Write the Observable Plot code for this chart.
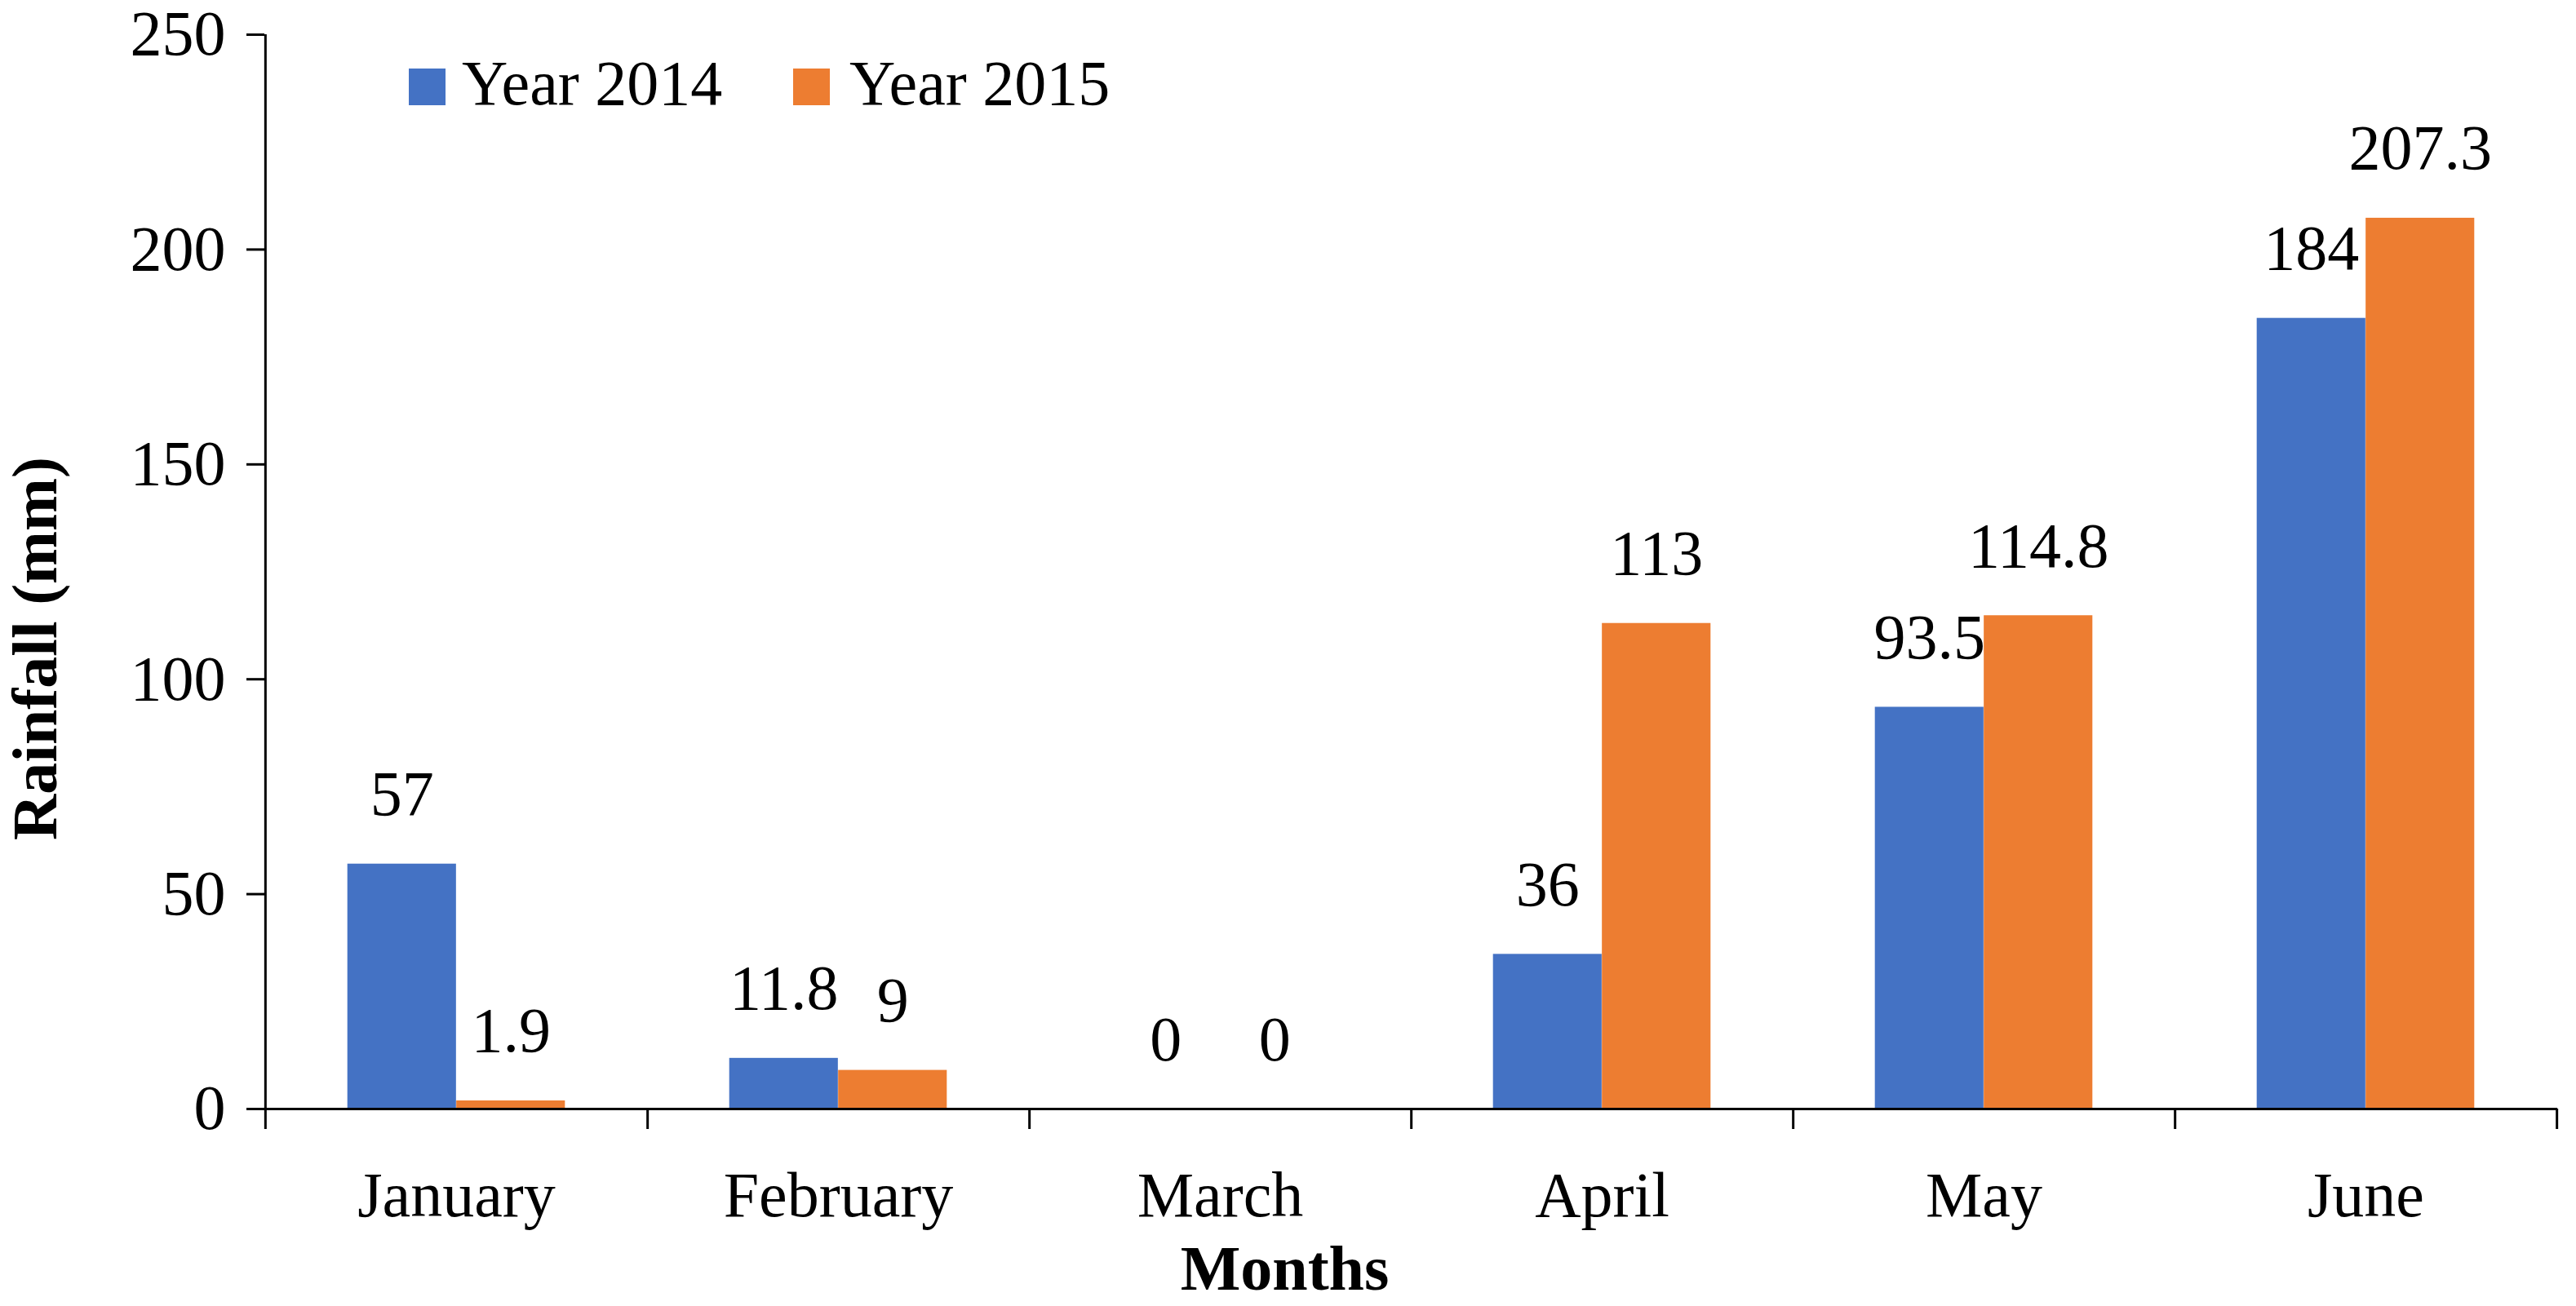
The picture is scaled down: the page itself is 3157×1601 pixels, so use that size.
<!DOCTYPE html>
<html>
<head>
<meta charset="utf-8">
<script src="https://cdn.jsdelivr.net/npm/d3@7"></script>
<script src="https://cdn.jsdelivr.net/npm/@observablehq/plot@0.6"></script>
<style>
  html, body { margin: 0; padding: 0; background: #ffffff; }
  #wrap { position: relative; width: 3157px; height: 1601px; font-family: "Liberation Serif", "Times New Roman", serif; }
  .sw { position: absolute; width: 45px; height: 45px; }
  .lt { position: absolute; font-size: 78px; line-height: 78px; color: #000; white-space: nowrap; }
</style>
</head>
<body>
<div id="wrap"></div>
<script>
const months = ["January", "February", "March", "April", "May", "June"];
const rain2014 = [57, 11.8, 0, 36, 93.5, 184];
const rain2015 = [1.9, 9, 0, 113, 114.8, 207.3];
const yTicks = [0, 50, 100, 150, 200, 250];
const seriesNames = ["Year 2014", "Year 2015"];
const seriesColors = ["#4472C4", "#ED7D31"];

const W = 3157, H = 1601;
const mL = 324, mR = 23, mT = 42, mB = 242;
const bw = (W - mL - mR) / months.length;
const font = "'Liberation Serif', 'Times New Roman', serif";
const fs = 78;

const d14 = months.map((m, i) => ({month: m, value: rain2014[i]}));
const d15 = months.map((m, i) => ({month: m, value: rain2015[i]}));

const chart = Plot.plot({
  width: W,
  height: H,
  marginLeft: mL,
  marginRight: mR,
  marginTop: mT,
  marginBottom: mB,
  style: {fontFamily: font, fontSize: fs + "px", color: "#000", background: "#fff", overflow: "visible"},
  x: {type: "band", domain: months, padding: 0},
  y: {domain: [0, 250]},
  marks: [
    Plot.barY(d14, {x: "month", y: "value", fill: seriesColors[0], insetLeft: bw * 0.215, insetRight: bw * 0.5}),
    Plot.barY(d15, {x: "month", y: "value", fill: seriesColors[1], insetLeft: bw * 0.5, insetRight: bw * 0.215}),
    Plot.text(d14, {x: "month", y: "value", text: d => String(d.value), dx: -bw * 0.1425, dy: -60, lineAnchor: "bottom", fontSize: fs, fill: "#000"}),
    Plot.text(d15, {x: "month", y: "value", text: d => String(d.value), dx: bw * 0.1425, dy: -60, lineAnchor: "bottom", fontSize: fs, fill: "#000"}),
    // category boundary ticks below the axis
    Plot.ruleX(months, {x: d => d, y1: 0, y2: 0, dx: bw / 2, insetBottom: -25, stroke: "#000", strokeWidth: 3}),
    // y axis line (left edge of first category), extended below the x axis
    Plot.ruleX([months[0]], {x: d => d, y1: 250, y2: 0, dx: -bw / 2, insetBottom: -25, stroke: "#000", strokeWidth: 3}),
    // x axis line
    Plot.ruleY([0], {insetLeft: -22, stroke: "#000", strokeWidth: 3}),
    Plot.axisY({ticks: yTicks, tickSize: 22, tickPadding: 26, fontSize: fs, label: null, strokeWidth: 3, tickFormat: d => String(d)}),
    Plot.axisX({tickSize: 0, tickPadding: 76, fontSize: fs, label: null}),
    Plot.text(["Months"], {frameAnchor: "bottom", dx: -155, dy: 221, textAnchor: "middle", lineAnchor: "bottom", fontSize: fs, fontWeight: "bold", fill: "#000"}),
    Plot.text(["Rainfall (mm)"], {frameAnchor: "left", dx: -280, dy: 94, rotate: -90, textAnchor: "middle", lineAnchor: "middle", fontSize: fs, fontWeight: "bold", fill: "#000"})
  ]
});

const wrap = document.getElementById("wrap");
wrap.appendChild(chart);

// legend overlay inside the plot area
const legendPos = [{sx: 501, tx: 566}, {sx: 972, tx: 1041}];
seriesNames.forEach((name, i) => {
  const sw = document.createElement("div");
  sw.className = "sw";
  sw.style.left = legendPos[i].sx + "px";
  sw.style.top = "84px";
  sw.style.background = seriesColors[i];
  wrap.appendChild(sw);
  const t = document.createElement("div");
  t.className = "lt";
  t.style.left = legendPos[i].tx + "px";
  t.style.top = "63px";
  t.textContent = name;
  wrap.appendChild(t);
});
</script>
</body>
</html>
